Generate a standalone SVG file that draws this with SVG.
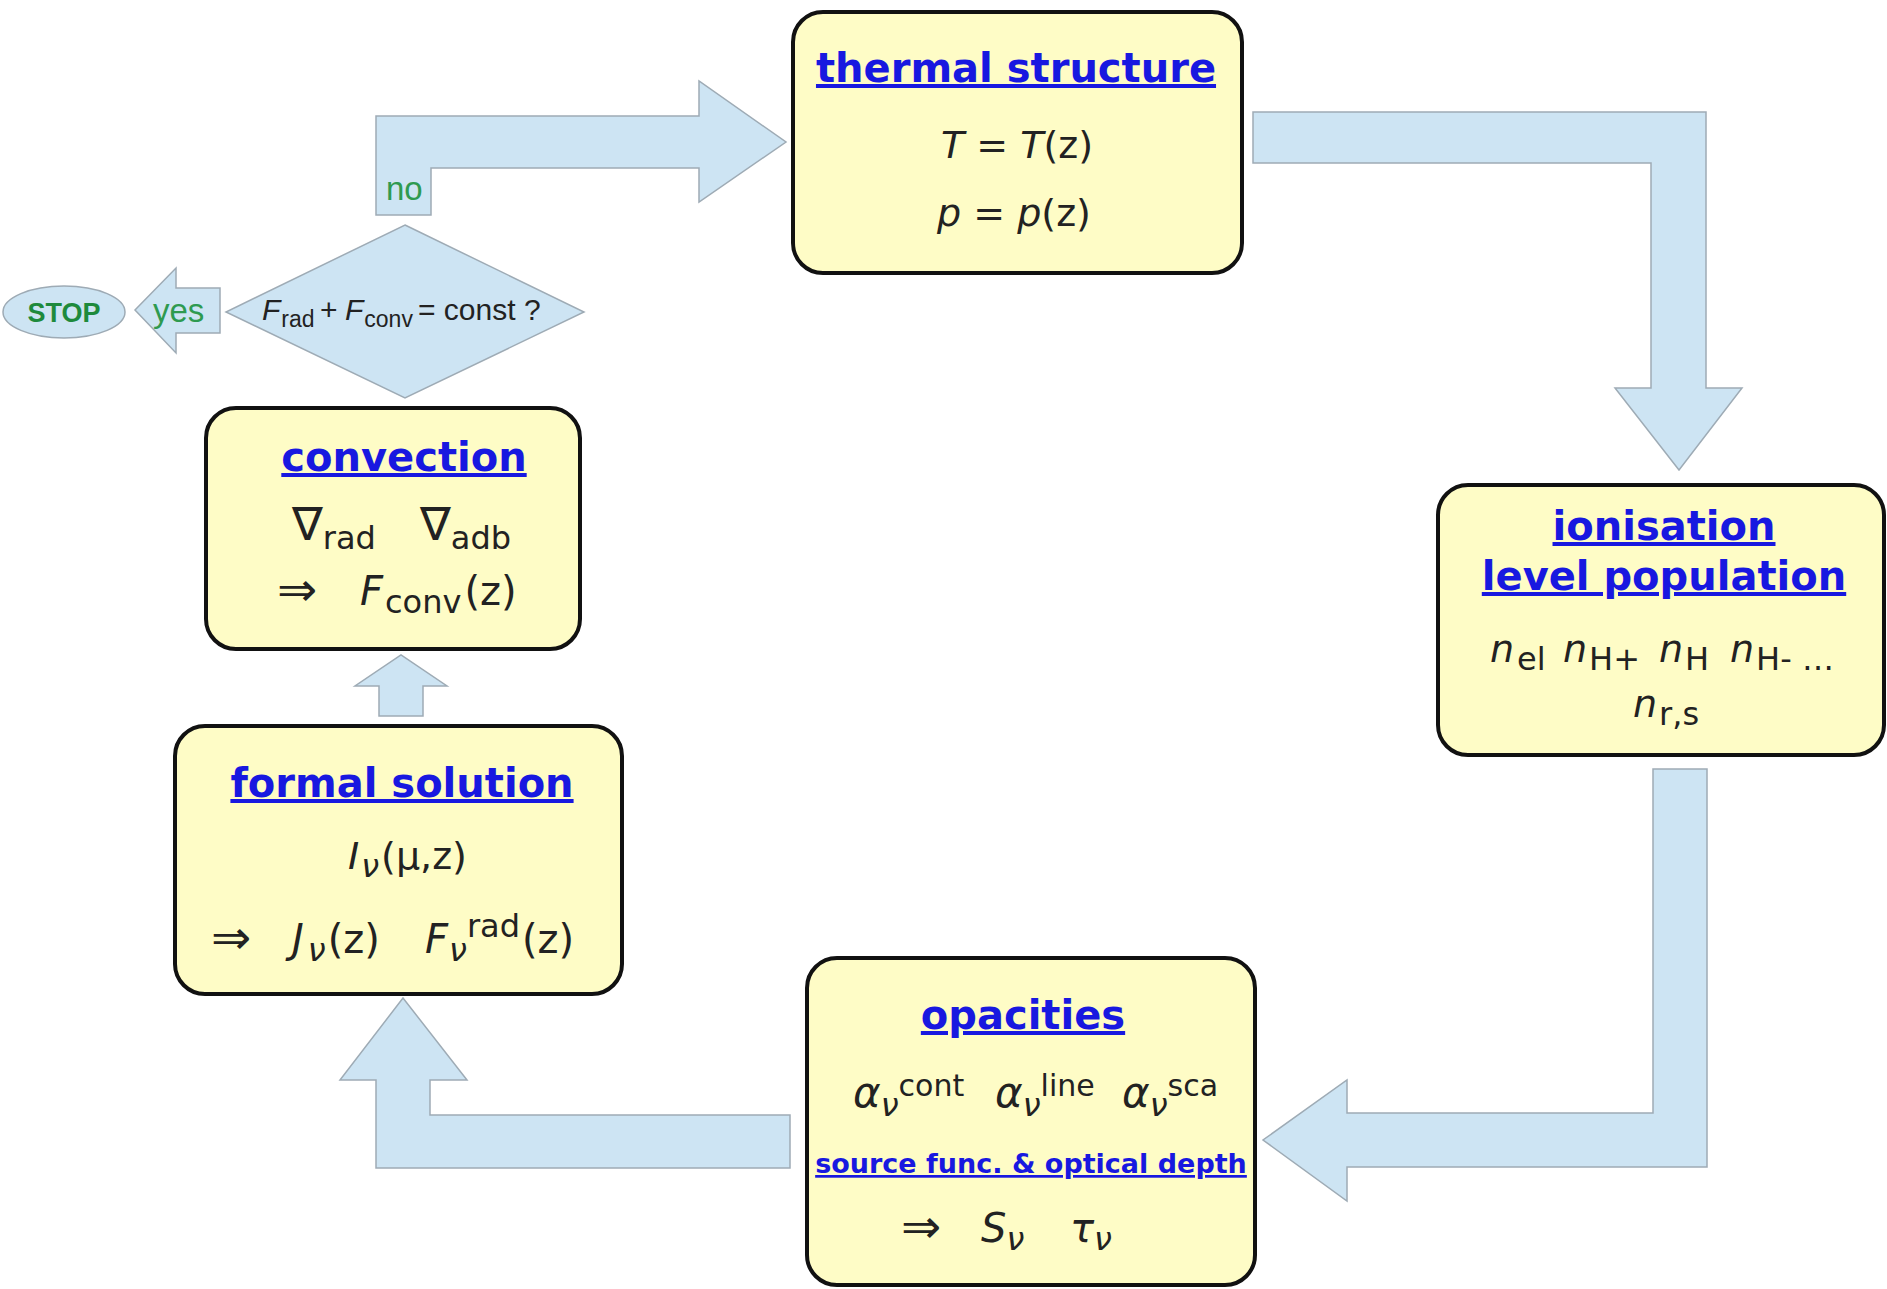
<svg xmlns="http://www.w3.org/2000/svg" width="1887" height="1289" viewBox="0 0 1887 1289">
<style>
.box{fill:#fefcc6;stroke:#111;stroke-width:4}
.arrow{fill:#cde4f3;stroke:#9eabb5;stroke-width:1.5;stroke-linejoin:miter}
.title{font-family:"DejaVu Sans",sans-serif;font-weight:bold;font-size:40px;fill:#1818e0;text-decoration:underline;text-anchor:middle}
.small{font-size:27px}
.m{font-family:"DejaVu Sans",sans-serif;font-size:38px;fill:#222}
.m40{font-size:40px}
.big{font-size:42px}
.nab{font-size:46px}
.imp{font-size:48px}
.i{font-style:italic}
.s{font-size:32px}
.s30{font-size:30px}
.lbl{font-family:"Liberation Sans",Arial,sans-serif;font-size:33px;fill:#2e9a50}
.d{font-family:"Liberation Sans",Arial,sans-serif;font-size:30px;fill:#222}
.ds{font-size:23px}
</style>
<rect width="1887" height="1289" fill="#ffffff"/>
<g id="connectors">
  <polygon id="arrow-no" class="arrow" points="376,215 376,116 699,116 699,81 786,142 699,202 699,168 431,168 431,215"/>
  <polygon id="arrow-thermal-ionisation" class="arrow" points="1253,112 1706,112 1706,388 1742,388 1679,470 1615,388 1651,388 1651,163 1253,163"/>
  <polygon id="arrow-ionisation-opacities" class="arrow" points="1653,769 1707,769 1707,1167 1347,1167 1347,1201 1263,1140 1347,1080 1347,1113 1653,1113"/>
  <polygon id="arrow-opacities-formal" class="arrow" points="790,1115 790,1168 376,1168 376,1080 340,1080 403,998 467,1080 430,1080 430,1115"/>
  <polygon id="arrow-formal-convection" class="arrow" points="379,716 379,686 355,686 401,655 447,686 423,686 423,716"/>
  <polygon id="arrow-yes" class="arrow" points="220,288 220,333 176,333 176,353 135,310 176,268 176,288"/>
  <text class="lbl" x="386" y="200">no</text>
  <text class="lbl" x="153" y="322">yes</text>
</g>
<g id="decision">
  <polygon class="arrow" points="405,225 584,312 405,398 226,312"/>
  <text class="d"><tspan x="262" y="320" class="i">F</tspan><tspan dx="1" dy="7" class="ds">rad</tspan><tspan x="320" y="320">+</tspan><tspan x="345" y="320" class="i">F</tspan><tspan dx="1" dy="7" class="ds">conv</tspan><tspan x="418" y="320">= const ?</tspan></text>
</g>
<g id="stop">
  <ellipse cx="64" cy="312" rx="61" ry="26" fill="#cde4f3" stroke="#9eabb5" stroke-width="1.5"/>
  <text x="64" y="322" text-anchor="middle" font-family="'Liberation Sans',Arial,sans-serif" font-weight="bold" font-size="27" fill="#1e8a3c">STOP</text>
</g>
<g id="thermal">
  <rect class="box" x="793" y="12" width="449" height="261" rx="30"/>
  <text class="title" x="1016" y="82">thermal structure</text>
  <text class="m" x="1017" y="158" text-anchor="middle"><tspan class="i">T</tspan> = <tspan class="i">T</tspan>(z)</text>
  <text class="m" x="1014" y="226" text-anchor="middle"><tspan class="i">p</tspan> = <tspan class="i">p</tspan>(z)</text>
</g>
<g id="ionisation">
  <rect class="box" x="1438" y="485" width="446" height="270" rx="30"/>
  <text class="title" x="1664" y="540">ionisation</text>
  <text class="title" x="1664" y="590">level population</text>
  <text class="m"><tspan x="1490" y="662" class="i">n</tspan><tspan dx="3" dy="8" class="s">el</tspan><tspan x="1563" y="662" class="i">n</tspan><tspan dx="2" dy="8" class="s">H+</tspan><tspan x="1659" y="662" class="i">n</tspan><tspan dx="2" dy="8" class="s">H</tspan><tspan x="1730" y="662" class="i">n</tspan><tspan dx="2" dy="8" class="s">H- …</tspan></text>
  <text class="m"><tspan x="1633" y="717" class="i">n</tspan><tspan dx="2" dy="8" class="s">r,s</tspan></text>
</g>
<g id="opacities">
  <rect class="box" x="807" y="958" width="448" height="327" rx="30"/>
  <text class="title" x="1023" y="1029">opacities</text>
  <text class="m"><tspan x="853" y="1107" class="i big">α</tspan><tspan dy="9" class="s i">ν</tspan><tspan dy="-20" class="s30">cont</tspan><tspan x="995" y="1107" class="i big">α</tspan><tspan dy="9" class="s i">ν</tspan><tspan dy="-20" class="s30">line</tspan><tspan x="1122" y="1107" class="i big">α</tspan><tspan dy="9" class="s i">ν</tspan><tspan dy="-20" class="s30">sca</tspan></text>
  <text class="title small" x="1031" y="1173">source func. &amp; optical depth</text>
  <text class="m"><tspan x="901" y="1243" class="imp">⇒</tspan><tspan x="981" y="1242" class="i m40">S</tspan><tspan dy="8" class="s i">ν</tspan><tspan x="1070" y="1242" class="i m40">τ</tspan><tspan dy="8" class="s i">ν</tspan></text>
</g>
<g id="formal">
  <rect class="box" x="175" y="726" width="447" height="268" rx="30"/>
  <text class="title" x="402" y="797">formal solution</text>
  <text class="m"><tspan x="348" y="869" class="i">I</tspan><tspan dx="2" dy="8" class="s i">ν</tspan><tspan dx="2" dy="-8">(μ,z)</tspan></text>
  <text class="m m40"><tspan x="211" y="954" class="imp">⇒</tspan><tspan x="292" y="953" class="i">J</tspan><tspan dx="4" dy="8" class="s i">ν</tspan><tspan dx="2" dy="-8">(z)</tspan><tspan x="425" y="953" class="i">F</tspan><tspan dx="1" dy="8" class="s i">ν</tspan><tspan dy="-24" class="s">rad</tspan><tspan dx="2" dy="16">(z)</tspan></text>
</g>
<g id="convection">
  <rect class="box" x="206" y="408" width="374" height="241" rx="30"/>
  <text class="title" x="404" y="471">convection</text>
  <text class="m"><tspan x="292" y="540" class="nab">∇</tspan><tspan dy="9" class="s">rad</tspan><tspan x="420" y="540" class="nab">∇</tspan><tspan dy="9" class="s">adb</tspan></text>
  <text class="m m40"><tspan x="277" y="606" class="imp">⇒</tspan><tspan x="360" y="605" class="i">F</tspan><tspan dx="2" dy="8" class="s">conv</tspan><tspan dx="3" dy="-8">(z)</tspan></text>
</g>
</svg>
